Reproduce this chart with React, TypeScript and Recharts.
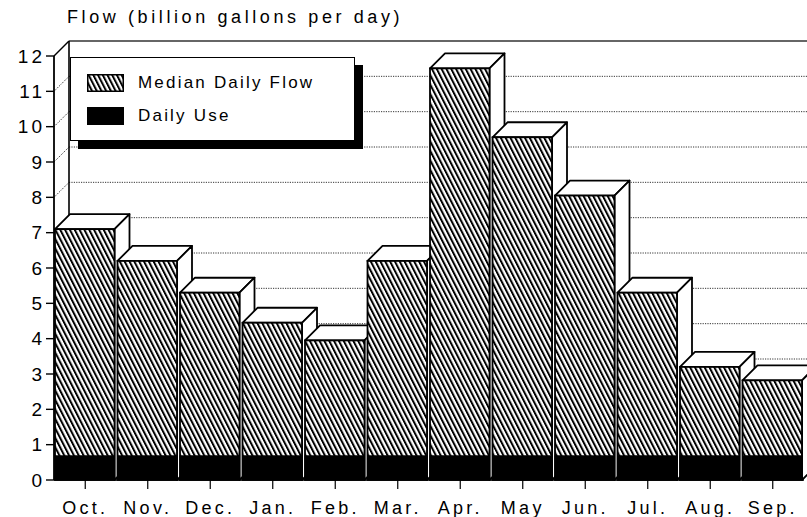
import { Bar, BarChart, CartesianGrid, Legend, XAxis, YAxis } from "recharts"

const months = ["Oct.", "Nov.", "Dec.", "Jan.", "Feb.", "Mar.", "Apr.", "May", "Jun.", "Jul.", "Aug.", "Sep."]
const medianFlow = [7.1, 6.2, 5.3, 4.45, 3.95, 6.2, 11.65, 9.7, 8.05, 5.3, 3.2, 2.82]
const dailyUse = [0.7, 0.7, 0.7, 0.7, 0.7, 0.7, 0.7, 0.7, 0.7, 0.7, 0.7, 0.7]
const yTicks = [0, 1, 2, 3, 4, 5, 6, 7, 8, 9, 10, 11, 12]

const data = months.map((month, i) => ({ month, flow: medianFlow[i], use: dailyUse[i] }))

const FONT = '"Liberation Sans", Arial, sans-serif'
const DEPTH = 15

// front face hatched, top and right faces plain white
function FlowBox(props: any) {
  const { x, y, width, height } = props
  const fx = x + 1
  const fw = width - 3.5
  const bottom = y + height
  return (
    <g>
      <polygon
        points={`${fx},${y} ${fx + DEPTH},${y - DEPTH} ${fx + fw + DEPTH},${y - DEPTH} ${fx + fw},${y}`}
        fill="#fff"
        stroke="#000"
        strokeWidth={1.8}
        strokeLinejoin="round"
      />
      <polygon
        points={`${fx + fw},${y} ${fx + fw + DEPTH},${y - DEPTH} ${fx + fw + DEPTH},${bottom - DEPTH} ${fx + fw},${bottom}`}
        fill="#fff"
        stroke="#000"
        strokeWidth={1.8}
        strokeLinejoin="round"
      />
      <rect x={fx} y={y} width={fw} height={height} fill="url(#hatch)" stroke="#000" strokeWidth={1.8} />
    </g>
  )
}

function UseBox(props: any) {
  const { x, y, width, height } = props
  return <rect x={x + 0.5} y={y} width={width - 2.5} height={height} fill="#000" />
}

// gridlines sit on the back wall, pushed back by the box depth
function backWallLine(p: any) {
  const { x1, x2, y1, index, y: top, height } = p
  const isTop = Math.abs(y1 - top) < 0.5
  const isBottom = Math.abs(y1 - (top + height)) < 0.5
  return (
    <g key={`wall-${index}`}>
      <line
        x1={x1}
        y1={y1}
        x2={x1 + DEPTH}
        y2={y1 - DEPTH}
        stroke="#000"
        strokeWidth={isTop ? 1.4 : 0.8}
        strokeDasharray={isTop ? undefined : "1.2 1.2"}
      />
      {!isBottom && (
        <line
          x1={x1 + DEPTH}
          y1={y1 - DEPTH}
          x2={x2 + DEPTH}
          y2={y1 - DEPTH}
          stroke={isTop ? "#333" : "#000"}
          strokeWidth={isTop ? 1.6 : 0.8}
          strokeDasharray={isTop ? undefined : "1.2 1.2"}
        />
      )}
      {isTop && (
        <line x1={x1 + DEPTH} y1={y1 - DEPTH} x2={x1 + DEPTH} y2={top + height - DEPTH} stroke="#000" strokeWidth={1.6} />
      )}
    </g>
  )
}

function LegendBox({ payload }: any) {
  const items = [...(payload || [])].sort((a: any, b: any) => (a.dataKey === "flow" ? -1 : b.dataKey === "flow" ? 1 : 0))
  return (
    <div
      style={{
        position: "relative",
        width: 285,
        height: 84,
        boxSizing: "border-box",
        border: "1.5px solid #000",
        background: "#fff",
        boxShadow: "8px 8px 0 #000",
        fontFamily: FONT,
      }}
    >
      {items.map((entry: any, i: number) => (
        <div key={entry.value} style={{ position: "absolute", left: 16, top: 16 + i * 33, display: "flex", alignItems: "center" }}>
          <svg width={37} height={18} style={{ display: "block" }}>
            <defs>
              <pattern id="hatchLegend" patternUnits="userSpaceOnUse" width={4.2} height={10} patternTransform="rotate(-27)">
                <rect width={4.2} height={10} fill="#fff" />
                <line x1={1} y1={0} x2={1} y2={10} stroke="#000" strokeWidth={2} />
              </pattern>
            </defs>
            <rect
              x={0.75}
              y={0.75}
              width={35.5}
              height={16.5}
              fill={entry.dataKey === "flow" ? "url(#hatchLegend)" : "#000"}
              stroke="#000"
              strokeWidth={1.5}
            />
          </svg>
          <span style={{ marginLeft: 14, fontSize: 17, letterSpacing: 2.2, color: "#000", lineHeight: "18px" }}>{entry.value}</span>
        </div>
      ))}
    </div>
  )
}

export default function App() {
  return (
    <div style={{ position: "absolute", left: 0, top: 0, width: 807, height: 517, background: "#fff", overflow: "hidden" }}>
      <div
        style={{
          position: "absolute",
          left: 67,
          top: 7,
          fontFamily: FONT,
          fontSize: 18,
          letterSpacing: 3.6,
          color: "#000",
          whiteSpace: "nowrap",
        }}
      >
        Flow (billion gallons per day)
      </div>
      <BarChart
        width={807}
        height={517}
        data={data}
        margin={{ top: 56, right: 3, bottom: 0, left: 0 }}
        barCategoryGap={0}
        barGap={0}
      >
        <defs>
          <pattern id="hatch" patternUnits="userSpaceOnUse" width={4.3} height={10} patternTransform="rotate(-27)">
            <rect width={4.3} height={10} fill="#fff" />
            <line x1={1} y1={0} x2={1} y2={10} stroke="#000" strokeWidth={2} />
          </pattern>
        </defs>
        <CartesianGrid vertical={false} horizontal={backWallLine} />
        <XAxis
          dataKey="month"
          xAxisId="flow"
          height={37}
          axisLine={{ stroke: "#000", strokeWidth: 1.6 }}
          tickLine={{ stroke: "#000", strokeWidth: 1.2 }}
          tickSize={9}
          tickMargin={12}
          interval={0}
          tick={{ fill: "#000", fontSize: 18, fontFamily: FONT, letterSpacing: 3.3 }}
        />
        <XAxis dataKey="month" xAxisId="use" hide />
        <YAxis
          width={54}
          domain={[0, 12]}
          ticks={yTicks}
          interval={0}
          axisLine={{ stroke: "#000", strokeWidth: 1.8 }}
          tickLine={{ stroke: "#000", strokeWidth: 1.4 }}
          tickSize={8}
          tickMargin={1}
          tick={{ fill: "#000", fontSize: 19, fontFamily: FONT, letterSpacing: 3 }}
        />
        <Legend
          layout="horizontal"
          align="center"
          verticalAlign="middle"
          content={<LegendBox />}
          wrapperStyle={{ left: 70, top: 57, width: 285, height: 84 }}
        />
        <Bar dataKey="flow" name="Median Daily Flow" xAxisId="flow" fill="#888" shape={FlowBox} isAnimationActive={false} />
        <Bar dataKey="use" name="Daily Use" xAxisId="use" fill="#000" shape={UseBox} isAnimationActive={false} />
      </BarChart>
    </div>
  )
}
